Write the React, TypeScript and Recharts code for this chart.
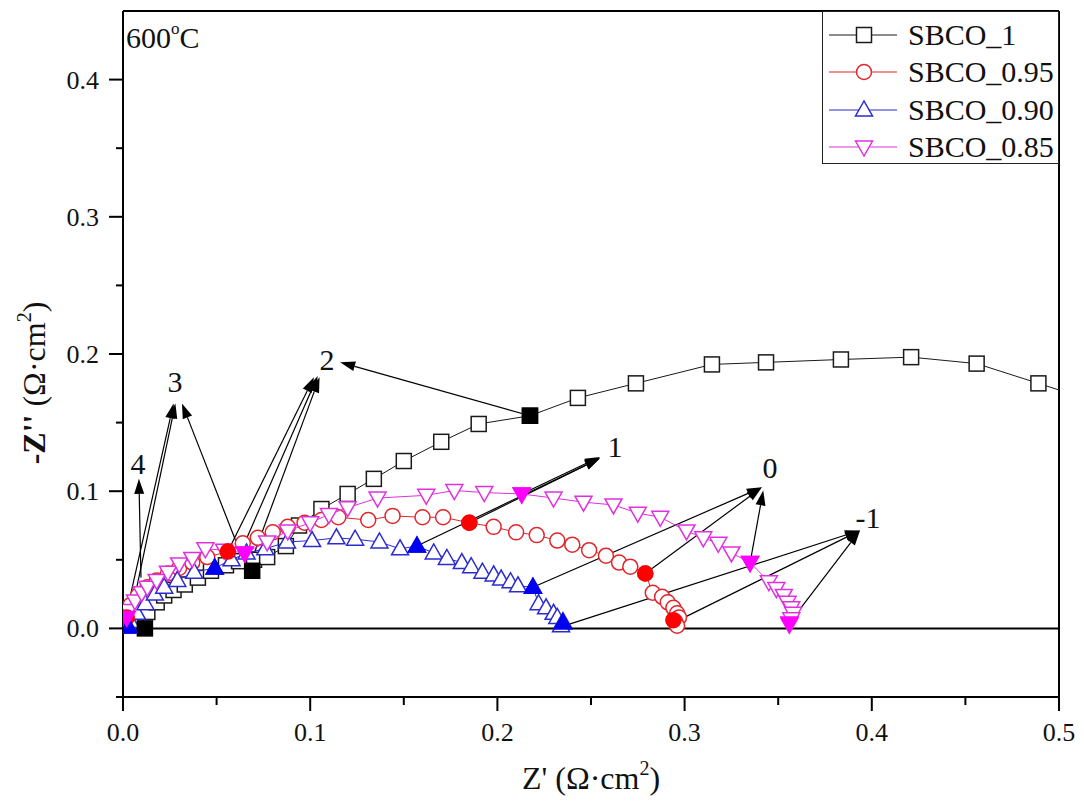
import { Legend, ReferenceDot, ReferenceLine, Scatter, ScatterChart, XAxis, YAxis } from "recharts";

type Pt = [number, number];

// Z' , -Z'' (Ω·cm²)
const sbco1: Pt[] = [
  [0.003, 0.004], [0.007, 0.008], [0.013, 0.012], [0.018, 0.019], [0.022, 0.024], [0.027, 0.028],
  [0.033, 0.032], [0.040, 0.037], [0.047, 0.042], [0.055, 0.046], [0.062, 0.049], [0.070, 0.050],
  [0.077, 0.052], [0.087, 0.060], [0.094, 0.075], [0.106, 0.087], [0.120, 0.098], [0.134, 0.109],
  [0.150, 0.122], [0.170, 0.136], [0.190, 0.149], [0.2174, 0.155], [0.243, 0.168], [0.274, 0.1786],
  [0.3146, 0.1924], [0.3435, 0.1939], [0.3835, 0.196], [0.421, 0.1977], [0.456, 0.193], [0.489, 0.1786],
  [0.52, 0.165]
];
const sbco095: Pt[] = [
  [0.001, 0.010], [0.004, 0.017], [0.008, 0.024], [0.013, 0.030], [0.018, 0.035], [0.024, 0.040],
  [0.030, 0.044], [0.037, 0.048], [0.045, 0.052], [0.056, 0.056], [0.064, 0.062], [0.072, 0.066],
  [0.080, 0.070], [0.088, 0.074], [0.097, 0.077], [0.106, 0.079], [0.115, 0.081], [0.131, 0.079],
  [0.144, 0.082], [0.160, 0.081], [0.171, 0.081], [0.185, 0.077], [0.198, 0.074], [0.210, 0.070],
  [0.221, 0.068], [0.232, 0.064], [0.240, 0.061], [0.249, 0.057], [0.258, 0.053], [0.265, 0.048],
  [0.271, 0.045], [0.279, 0.040], [0.283, 0.026], [0.288, 0.023], [0.291, 0.019], [0.294, 0.015],
  [0.296, 0.011], [0.297, 0.008], [0.295, 0.005], [0.296, 0.002]
];
const sbco090: Pt[] = [
  [0.002, 0.001], [0.004, 0.005], [0.0075, 0.011], [0.012, 0.018], [0.017, 0.025], [0.022, 0.030],
  [0.029, 0.035], [0.038, 0.041], [0.049, 0.044], [0.058, 0.050], [0.066, 0.055], [0.076, 0.058],
  [0.0876, 0.063], [0.101, 0.064], [0.114, 0.066], [0.124, 0.065], [0.137, 0.063], [0.148, 0.058],
  [0.157, 0.060], [0.166, 0.055], [0.173, 0.051], [0.181, 0.048], [0.186, 0.045], [0.192, 0.041],
  [0.198, 0.039], [0.202, 0.036], [0.207, 0.034], [0.211, 0.031], [0.219, 0.030], [0.222, 0.018],
  [0.226, 0.015], [0.230, 0.011], [0.232, 0.008], [0.235, 0.005], [0.234, 0.002]
];
const sbco085: Pt[] = [
  [0.001, 0.006], [0.003, 0.013], [0.0064, 0.020], [0.010, 0.026], [0.013, 0.030], [0.018, 0.035],
  [0.024, 0.041], [0.030, 0.047], [0.037, 0.051], [0.044, 0.058], [0.054, 0.057], [0.065, 0.055],
  [0.077, 0.063], [0.088, 0.071], [0.100, 0.077], [0.110, 0.083], [0.120, 0.088], [0.136, 0.095],
  [0.162, 0.097], [0.177, 0.1005], [0.193, 0.099], [0.213, 0.098], [0.230, 0.095], [0.246, 0.092],
  [0.262, 0.090], [0.275, 0.084], [0.287, 0.081], [0.301, 0.071], [0.310, 0.066], [0.318, 0.062],
  [0.325, 0.055], [0.335, 0.048], [0.345, 0.034], [0.349, 0.029], [0.353, 0.024], [0.355, 0.019],
  [0.357, 0.015], [0.358, 0.011], [0.357, 0.007], [0.356, 0.003]
];

// filled symbols: the marked frequency decades
const sbco1Marked: Pt[] = [[0.0117, 0.0], [0.069, 0.042], [0.2174, 0.155]];
const sbco095Marked: Pt[] = [[0.002, 0.008], [0.056, 0.056], [0.185, 0.077], [0.279, 0.040], [0.294, 0.006]];
const sbco090Marked: Pt[] = [[0.003, 0.001], [0.049, 0.044], [0.157, 0.060], [0.219, 0.030], [0.235, 0.004]];
const sbco085Marked: Pt[] = [[0.002, 0.008], [0.065, 0.055], [0.213, 0.098], [0.335, 0.048], [0.356, 0.004]];

// log(f) labels and the arrows pointing at them
const decadeLabels: { text: string; at: Pt }[] = [
  { text: "4", at: [0.008, 0.12] },
  { text: "3", at: [0.0278, 0.1793] },
  { text: "2", at: [0.109, 0.1953] },
  { text: "1", at: [0.2628, 0.1319] },
  { text: "0", at: [0.3456, 0.1166] },
  { text: "-1", at: [0.398, 0.0802] }
];
const arrows: [Pt, Pt][] = [
  [[0.0096, 0.037], [0.0085, 0.109]],
  [[0.001, 0.006], [0.027, 0.164]],
  [[0.004, 0.008], [0.028, 0.164]],
  [[0.0636, 0.052], [0.0315, 0.164]],
  [[0.056, 0.056], [0.102, 0.183]],
  [[0.062, 0.053], [0.104, 0.184]],
  [[0.068, 0.047], [0.105, 0.183]],
  [[0.2174, 0.155], [0.116, 0.194]],
  [[0.185, 0.077], [0.2548, 0.124]],
  [[0.157, 0.060], [0.2548, 0.124]],
  [[0.213, 0.098], [0.2548, 0.125]],
  [[0.219, 0.030], [0.3413, 0.1028]],
  [[0.279, 0.040], [0.3413, 0.1028]],
  [[0.335, 0.048], [0.342, 0.1006]],
  [[0.236, 0.002], [0.3937, 0.0714]],
  [[0.294, 0.004], [0.3937, 0.0714]],
  [[0.356, 0.004], [0.3937, 0.0714]]
];

const xTicks = [0, 0.05, 0.1, 0.15, 0.2, 0.25, 0.3, 0.35, 0.4, 0.45, 0.5];
const yTicks = [-0.05, 0, 0.05, 0.1, 0.15, 0.2, 0.25, 0.3, 0.35, 0.4];

const FONT = "'Liberation Serif', 'Times New Roman', serif";

type Kind = "square" | "circle" | "up" | "down";

const series: { name: string; data: Pt[]; marked: Pt[]; kind: Kind; stroke: string; fill: string }[] = [
  { name: "SBCO_1", data: sbco1, marked: sbco1Marked, kind: "square", stroke: "#1a1a1a", fill: "#000000" },
  { name: "SBCO_0.95", data: sbco095, marked: sbco095Marked, kind: "circle", stroke: "#e0262b", fill: "#ff0000" },
  { name: "SBCO_0.90", data: sbco090, marked: sbco090Marked, kind: "up", stroke: "#2b2bd0", fill: "#0000f0" },
  { name: "SBCO_0.85", data: sbco085, marked: sbco085Marked, kind: "down", stroke: "#e030e0", fill: "#ff00ff" }
];

const toRows = (pts: Pt[]) => pts.map(([x, y]) => ({ x, y }));
const isMajor = (v: number) => Math.abs(v * 10 - Math.round(v * 10)) < 1e-6;

function Symbol({ kind, cx, cy, stroke, fill }: { kind: Kind; cx: number; cy: number; stroke: string; fill: string }) {
  const sw = 1.5;
  if (kind === "square") {
    return <rect x={cx - 7.5} y={cy - 7.5} width={15} height={15} fill={fill} stroke={stroke} strokeWidth={sw} />;
  }
  if (kind === "circle") {
    return <circle cx={cx} cy={cy} r={7.5} fill={fill} stroke={stroke} strokeWidth={sw} />;
  }
  if (kind === "up") {
    return (
      <polygon points={`${cx},${cy - 9} ${cx - 8.5},${cy + 6} ${cx + 8.5},${cy + 6}`} fill={fill} stroke={stroke} strokeWidth={sw} />
    );
  }
  return (
    <polygon points={`${cx},${cy + 9} ${cx - 8.5},${cy - 6} ${cx + 8.5},${cy - 6}`} fill={fill} stroke={stroke} strokeWidth={sw} />
  );
}

function XTick({ x, y, payload }: any) {
  const major = isMajor(payload.value);
  return (
    <g>
      <line x1={x} y1={y} x2={x} y2={y + (major ? 14 : 8)} stroke="#000" strokeWidth={2} />
      {major ? (
        <text x={x} y={y + 44} textAnchor="middle" fontSize={26} fontFamily={FONT} fill="#111">
          {payload.value.toFixed(1)}
        </text>
      ) : null}
    </g>
  );
}

function YTick({ x, y, payload }: any) {
  const major = isMajor(payload.value);
  return (
    <g>
      <line x1={x} y1={y} x2={x - (major ? 14 : 7)} y2={y} stroke="#000" strokeWidth={2} />
      {major ? (
        <text x={x - 24} y={y + 9} textAnchor="end" fontSize={26} fontFamily={FONT} fill="#111">
          {payload.value.toFixed(1)}
        </text>
      ) : null}
    </g>
  );
}

function Arrow({ x1, y1, x2, y2 }: any) {
  const dx = x2 - x1;
  const dy = y2 - y1;
  const len = Math.hypot(dx, dy) || 1;
  const ux = dx / len;
  const uy = dy / len;
  const hl = 15;
  const hw = 5;
  const bx = x2 - ux * hl;
  const by = y2 - uy * hl;
  return (
    <g>
      <line x1={x1} y1={y1} x2={bx} y2={by} stroke="#000" strokeWidth={1.2} />
      <polygon points={`${x2},${y2} ${bx - uy * hw},${by + ux * hw} ${bx + uy * hw},${by - ux * hw}`} fill="#000" />
    </g>
  );
}

function LegendBox() {
  return (
    <div
      style={{
        position: "relative",
        width: 237,
        height: 153,
        boxSizing: "border-box",
        border: "1.5px solid #222",
        background: "#fff",
        fontFamily: FONT,
        fontSize: 30,
        color: "#111"
      }}
    >
      {series.map((s, i) => (
        <div key={s.name} style={{ position: "absolute", left: 0, top: 5 + i * 37.3, height: 36, width: 235 }}>
          <svg width={80} height={36} style={{ position: "absolute", left: 0, top: 0 }}>
            <line x1={6} y1={18} x2={74} y2={18} stroke={s.stroke} strokeWidth={1.2} />
            <Symbol kind={s.kind} cx={41} cy={18} stroke={s.stroke} fill="#fff" />
          </svg>
          <span style={{ position: "absolute", left: 85, top: 0, lineHeight: "36px", whiteSpace: "nowrap" }}>{s.name}</span>
        </div>
      ))}
    </div>
  );
}

export default function App() {
  return (
    <div style={{ position: "absolute", left: 0, top: 0, width: 1084, height: 802, background: "#fff" }}>
      <ScatterChart width={1084} height={802} margin={{ top: 11, right: 25, left: 63, bottom: 60 }}>
        <XAxis
          type="number"
          dataKey="x"
          domain={[0, 0.5]}
          allowDataOverflow
          ticks={xTicks}
          interval={0}
          tick={<XTick />}
          tickLine={false}
          tickSize={0}
          tickMargin={0}
          height={45}
          axisLine={{ stroke: "#000", strokeWidth: 2 }}
          label={{
            content: ({ viewBox }: any) => (
              <text
                x={viewBox.x + viewBox.width / 2}
                y={viewBox.y + 92}
                textAnchor="middle"
                fontSize={32}
                fontFamily={FONT}
                fill="#111"
              >
                Z' (Ω·cm
                <tspan fontSize={20} dy={-14}>2</tspan>
                <tspan dy={14}>)</tspan>
              </text>
            )
          }}
        />
        <YAxis
          type="number"
          dataKey="y"
          domain={[-0.05, 0.45]}
          allowDataOverflow
          ticks={yTicks}
          interval={0}
          tick={<YTick />}
          tickLine={false}
          tickSize={0}
          tickMargin={0}
          width={60}
          axisLine={{ stroke: "#000", strokeWidth: 2 }}
          label={{
            content: ({ viewBox }: any) => {
              const cx = viewBox.x - 18;
              const cy = viewBox.y + viewBox.height / 2 + 29;
              return (
                <text
                  x={cx}
                  y={cy}
                  transform={`rotate(-90 ${cx} ${cy})`}
                  textAnchor="middle"
                  fontSize={32}
                  fontFamily={FONT}
                  fill="#111"
                >
                  <tspan fontWeight="bold">-Z''</tspan> (Ω·cm
                  <tspan fontSize={20} dy={-14}>2</tspan>
                  <tspan dy={14}>)</tspan>
                </text>
              );
            }
          }}
        />
        <ReferenceLine y={0.45} stroke="#000" strokeWidth={2} />
        <ReferenceLine x={0.5} stroke="#000" strokeWidth={2} />
        <ReferenceLine y={0} stroke="#000" strokeWidth={2} />

        {series.map((s) => (
          <Scatter
            key={s.name}
            name={s.name}
            data={toRows(s.data)}
            line={{ stroke: s.stroke, strokeWidth: 1 }}
            lineType="joint"
            isAnimationActive={false}
            shape={(p: any) => <Symbol kind={s.kind} cx={p.cx} cy={p.cy} stroke={s.stroke} fill="#fff" />}
          />
        ))}
        {series.map((s) => (
          <Scatter
            key={`${s.name}-marked`}
            name={`${s.name} marked`}
            legendType="none"
            data={toRows(s.marked)}
            isAnimationActive={false}
            shape={(p: any) => <Symbol kind={s.kind} cx={p.cx} cy={p.cy} stroke={s.fill} fill={s.fill} />}
          />
        ))}

        {arrows.map(([from, to], i) => (
          <ReferenceLine
            key={`arrow-${i}`}
            segment={[
              { x: from[0], y: from[1] },
              { x: to[0], y: to[1] }
            ]}
            shape={(p: any) => <Arrow {...p} />}
          />
        ))}
        {decadeLabels.map((d) => (
          <ReferenceDot
            key={`label-${d.text}`}
            x={d.at[0]}
            y={d.at[1]}
            r={0}
            shape={(p: any) => (
              <text x={p.cx} y={p.cy + 10} textAnchor="middle" fontSize={30} fontFamily={FONT} fill="#111">
                {d.text}
              </text>
            )}
          />
        ))}
        <ReferenceDot
          x={0.0016}
          y={0.4227}
          r={0}
          shape={(p: any) => (
            <text x={p.cx} y={p.cy} textAnchor="start" fontSize={30} fontFamily={FONT} fill="#111">
              600
              <tspan fontSize={17} dy={-14}>o</tspan>
              <tspan dy={14}>C</tspan>
            </text>
          )}
        />
        <Legend
          layout="vertical"
          align="center"
          verticalAlign="middle"
          wrapperStyle={{ left: 822, top: 11, width: 237, height: 153 }}
          content={() => <LegendBox />}
        />
      </ScatterChart>
    </div>
  );
}
